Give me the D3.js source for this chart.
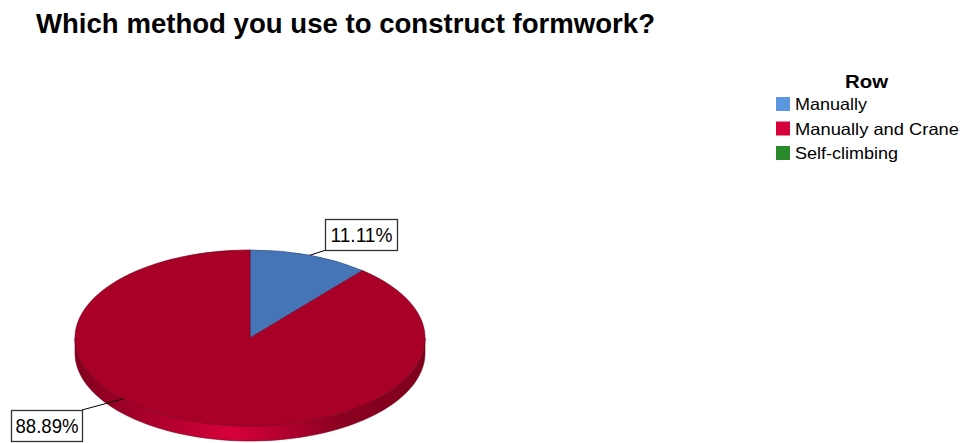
<!DOCTYPE html>
<html>
<head>
<meta charset="utf-8">
<script src="https://cdn.jsdelivr.net/npm/d3@7"></script>
<style>
  html, body { margin: 0; padding: 0; background: #fff; }
  svg { display: block; }
</style>
</head>
<body>
<svg id="chart" width="967" height="443"></svg>
<script>
// Survey answers: construction method for formwork
const categories = ["Manually", "Manually and Crane", "Self-climbing"];
const percents = [11.11, 88.89, 0];
const legendColors = ["#5b96e0", "#d6003a", "#2a8a2a"];
const topColors = ["#4575b6", "#a80026", "#2a8a2a"];
const sideColors = ["#33598e", "#8c0020", "#1f6a1f"];

const FONT = "Liberation Sans, Arial, sans-serif";
const svg = d3.select("#chart");

// Title
svg.append("text")
  .attr("x", 36).attr("y", 33)
  .attr("font-family", FONT)
  .attr("font-weight", "bold")
  .attr("font-size", 27)
  .attr("textLength", 619)
  .attr("lengthAdjust", "spacingAndGlyphs")
  .attr("fill", "#000")
  .text("Which method you use to construct formwork?");

// Pie geometry (tilted ellipse with an extruded rim)
const cx = 250, cy = 338, rx = 175, ry = 88, depth = 15;
const pie = d3.pie().sort(null).value(d => d.v);
const data = categories.map((c, i) => ({ c, v: percents[i], i }));
const arcs = pie(data).filter(a => a.data.v > 0);

const pt = (a, dy = 0) => [cx + rx * Math.sin(a), cy - ry * Math.cos(a) + dy];

const defs = svg.append("defs");
arcs.forEach(a => {
  const g = defs.append("linearGradient")
    .attr("id", "side" + a.data.i)
    .attr("gradientUnits", "userSpaceOnUse")
    .attr("x1", cx - rx).attr("x2", cx + rx).attr("y1", 0).attr("y2", 0);
  const base = d3.color(sideColors[a.data.i]);
  const light = d3.color(legendColors[a.data.i]);
  g.append("stop").attr("offset", "0%").attr("stop-color", base.darker(0.2));
  g.append("stop").attr("offset", "45%").attr("stop-color", light);
  g.append("stop").attr("offset", "75%").attr("stop-color", base);
  g.append("stop").attr("offset", "100%").attr("stop-color", base.darker(0.3));
});

// Side walls: only the front half (angles between pi/2 and 3pi/2) is visible
const sideLayer = svg.append("g");
arcs.forEach(a => {
  const s = Math.max(a.startAngle, Math.PI / 2);
  const e = Math.min(a.endAngle, 3 * Math.PI / 2);
  if (e <= s) return;
  const n = 80;
  const pts = d3.range(n + 1).map(k => s + (e - s) * k / n);
  const top = pts.map(t => pt(t));
  const bot = pts.slice().reverse().map(t => pt(t, depth));
  sideLayer.append("path")
    .attr("d", "M" + top.concat(bot).map(p => p.join(",")).join("L") + "Z")
    .attr("fill", `url(#side${a.data.i})`)
    .attr("stroke", d3.color(sideColors[a.data.i]).darker(0.4))
    .attr("stroke-width", 0.6);
});

// Top faces
const arcGen = d3.arc().innerRadius(0).outerRadius(rx);
svg.append("g")
  .attr("transform", `translate(${cx},${cy}) scale(1,${ry / rx})`)
  .selectAll("path")
  .data(arcs)
  .join("path")
  .attr("d", arcGen)
  .attr("fill", d => topColors[d.data.i])
  .attr("stroke", d => d3.color(topColors[d.data.i]).darker(0.8))
  .attr("stroke-width", 0.7)
  .attr("vector-effect", "non-scaling-stroke");

// Value labels in boxes, joined to the rim by leader lines
const labelBoxes = {
  0: { box: [325, 219, 72, 31], tl: 62, anchor: [326, 250], ang: null },
  1: { box: [11, 410, 71, 31], tl: 63, anchor: [82, 410], ang: 3.95 }
};
const labels = svg.append("g");
arcs.forEach(a => {
  const L = labelBoxes[a.data.i];
  if (!L) return;
  const ang = L.ang == null ? (a.startAngle + a.endAngle) / 2 : L.ang;
  const p = pt(ang);
  labels.append("line")
    .attr("x1", p[0]).attr("y1", p[1])
    .attr("x2", L.anchor[0]).attr("y2", L.anchor[1])
    .attr("stroke", "#000").attr("stroke-width", 1);
  const [bx, by, bw, bh] = L.box;
  labels.append("rect")
    .attr("x", bx + 0.5).attr("y", by + 0.5)
    .attr("width", bw).attr("height", bh)
    .attr("fill", "#fff").attr("stroke", "#333").attr("stroke-width", 1.3);
  labels.append("text")
    .attr("x", bx + bw / 2 - L.tl / 2 + 0.5).attr("y", by + bh / 2 + 7.5)
    .attr("font-family", FONT)
    .attr("font-size", 19.5)
    .attr("textLength", L.tl)
    .attr("lengthAdjust", "spacingAndGlyphs")
    .attr("fill", "#000")
    .text(d3.format(".2f")(a.data.v) + "%");
});

// Legend
const legendWidths = [72, 164, 103];
const legend = svg.append("g");
legend.append("text")
  .attr("x", 845).attr("y", 88)
  .attr("font-family", FONT)
  .attr("font-weight", "bold")
  .attr("font-size", 18)
  .attr("textLength", 43)
  .attr("lengthAdjust", "spacingAndGlyphs")
  .text("Row");
const items = legend.selectAll("g.item")
  .data(categories)
  .join("g")
  .attr("class", "item")
  .attr("transform", (d, i) => `translate(776,${97 + i * 24.5})`);
items.append("rect")
  .attr("width", 14).attr("height", 14)
  .attr("fill", (d, i) => legendColors[i]);
items.append("text")
  .attr("x", 19).attr("y", 13)
  .attr("font-family", FONT)
  .attr("font-size", 16.5)
  .attr("textLength", (d, i) => legendWidths[i])
  .attr("lengthAdjust", "spacingAndGlyphs")
  .attr("fill", "#000")
  .text(d => d);
</script>
</body>
</html>
